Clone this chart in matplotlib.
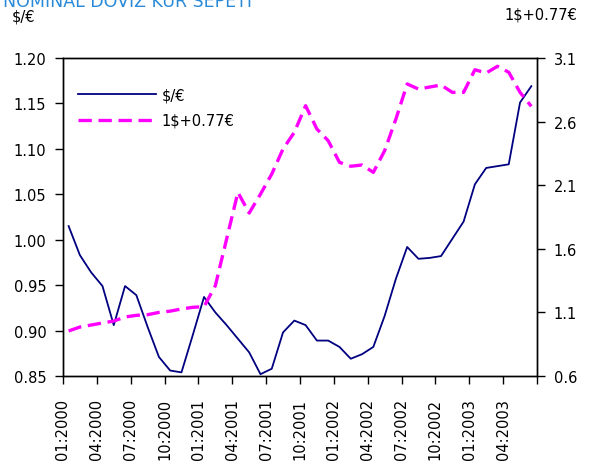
import numpy as np
import matplotlib
matplotlib.use('Agg')
import matplotlib.pyplot as plt

# monthly data, 01:2000 .. 06:2003
months = ['%02d:%d' % (m, y) for y in range(2000, 2004) for m in range(1, 13)][:42]

usd_eur = [1.015, 0.983, 0.964, 0.949, 0.906, 0.949, 0.939, 0.904, 0.871, 0.856,
           0.854, 0.895, 0.937, 0.920, 0.906, 0.891, 0.876, 0.852, 0.858, 0.898,
           0.911, 0.906, 0.889, 0.889, 0.882, 0.869, 0.874, 0.882, 0.916, 0.957,
           0.992, 0.979, 0.980, 0.982, 1.001, 1.020, 1.061, 1.079, 1.081, 1.083,
           1.151, 1.169]

basket = [0.954, 0.985, 1.001, 1.017, 1.032, 1.064, 1.077, 1.082, 1.100, 1.110,
          1.127, 1.140, 1.145, 1.310, 1.677, 2.044, 1.881, 2.030, 2.188, 2.385,
          2.516, 2.725, 2.542, 2.450, 2.280, 2.249, 2.259, 2.201, 2.371, 2.620,
          2.896, 2.856, 2.872, 2.888, 2.830, 2.830, 3.008, 2.982, 3.035, 2.988,
          2.830, 2.720]

left_ticks = [0.85, 0.90, 0.95, 1.00, 1.05, 1.10, 1.15, 1.20]
right_ticks = [0.6, 1.1, 1.6, 2.1, 2.6, 3.1]

plt.rcParams['font.family'] = ['DejaVu Sans']
plt.rcParams['font.size'] = 10.5

fig = plt.figure(figsize=(5.93, 4.64), dpi=100)
ax = fig.add_axes([0.1062, 0.1875, 0.7993, 0.6853])
ax2 = ax.twinx()

x = np.arange(len(months)) + 0.5
l1, = ax.plot(x, usd_eur, color='#000080', lw=1.3, label='$/€')
l2, = ax2.plot(x, basket, color='#ff00ff', lw=2.4, dashes=(4, 2), label='1$+0.77€')

ax.set_xlim(0, len(months))
ax.set_ylim(0.85, 1.20)
ax2.set_ylim(0.6, 3.1)
ax.set_yticks(left_ticks)
ax.set_yticklabels(['%.2f' % v for v in left_ticks])
ax2.set_yticks(right_ticks)
ax2.set_yticklabels(['%.1f' % v for v in right_ticks])

xt = np.arange(0, len(months) + 1, 3)
ax.set_xticks(xt)
ax.set_xticklabels([months[i] if i < len(months) else '' for i in xt], rotation=90)

for a in (ax, ax2):
    a.tick_params(direction='out', length=6, width=1, color='black', pad=6)
    for s in a.spines.values():
        s.set_color('black')
        s.set_linewidth(1)
ax.tick_params(axis='x', pad=10)

ax.legend(handles=[l1, l2], loc='upper left', bbox_to_anchor=(0.005, 0.95),
          frameon=False, handlelength=5.3, handletextpad=0.4,
          labelspacing=0.75, fontsize=10.5)

fig.text(0.005, 0.985, 'NOMINAL DÖVİZ KUR SEPETİ', color='#2a8ad8',
         fontsize=12.5, va='baseline', ha='left')
fig.text(0.02, 0.963, '$/€', va='center', ha='left')
fig.text(0.973, 0.968, '1$+0.77€', va='center', ha='right')

fig.savefig('out.png', dpi=100)
